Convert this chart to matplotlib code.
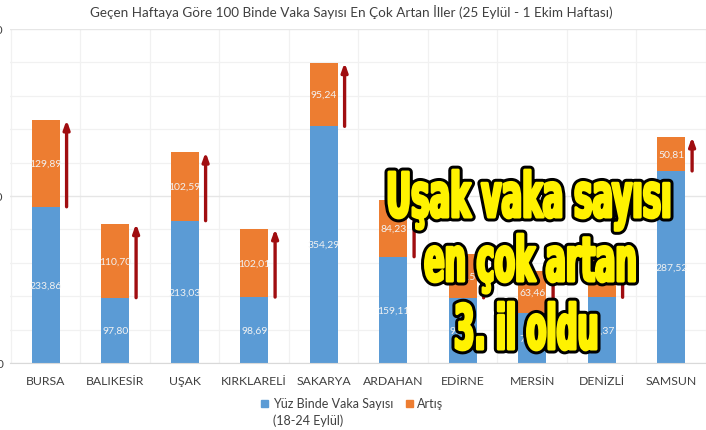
import numpy as np
import matplotlib
matplotlib.use("Agg")
import matplotlib.pyplot as plt
from matplotlib.patches import Rectangle, PathPatch
from matplotlib.textpath import TextPath
from matplotlib.font_manager import FontProperties
from matplotlib.transforms import Affine2D

cities = ['BURSA', 'BALIKESİR', 'UŞAK', 'KIRKLARELİ', 'SAKARYA',
          'ARDAHAN', 'EDİRNE', 'MERSİN', 'DENİZLİ', 'SAMSUN']
# 100 binde vaka sayisi (18-24 Eylul)
base = [233.86, 97.80, 213.03, 98.69, 354.29, 159.11, 97.60, 75.00, 98.37, 287.52]
# artis (25 Eylul - 1 Ekim)
increase = [129.89, 110.70, 102.59, 102.01, 95.24, 84.23, 66.15, 63.46, 56.20, 50.81]

title = "Geçen Haftaya Göre 100 Binde Vaka Sayısı En Çok Artan İller (25 Eylül - 1 Ekim Haftası)"
headline = ["Uşak vaka sayısı", "en çok artan", "3. il oldu"]

BLUE = '#5b9bd5'
ORANGE = '#ed7d31'
ARROW = '#a00d10'
W, H = 706, 431

plt.rcParams['font.family'] = ['Lato', 'DejaVu Sans']

fig = plt.figure(figsize=(W / 100, H / 100), dpi=100)
ax = fig.add_axes([10 / W, (H - 364) / H, (W - 10) / W, 334 / H])

x = np.arange(len(cities))
base = np.array(base)
increase = np.array(increase)
total = base + increase

ax.bar(x, base, width=0.4, color=BLUE, zorder=2)
ax.bar(x, increase, width=0.4, bottom=base, color=ORANGE, zorder=2)

def fmt(v):
    return f"{v:.2f}".replace('.', ',')

for i in range(len(x)):
    ax.text(x[i], base[i] / 2, fmt(base[i]), ha='center', va='center',
            color='#f2f2f2', fontsize=7.5, zorder=3)
    ax.text(x[i], base[i] + increase[i] / 2, fmt(increase[i]), ha='center',
            va='center', color='#f2f2f2', fontsize=7.5, zorder=3)
    ax.annotate('', xy=(x[i] + 0.3, total[i]), xytext=(x[i] + 0.3, base[i]),
                arrowprops=dict(arrowstyle='-|>,head_length=0.5,head_width=0.18',
                                color=ARROW, lw=2.4, shrinkA=0, shrinkB=0),
                zorder=4)

ax.set_xlim(-36 / 70, (W - 10 - 36) / 70)
ax.set_ylim(0, 500)
ax.set_yticks([0, 250, 500])
ax.set_yticks(np.arange(0, 501, 50), minor=True)
ax.set_xticks(np.arange(-0.5, 10, 0.5), minor=True)
ax.set_xticks(x)
ax.set_xticklabels(cities, fontsize=8.8, color='#404040')
ax.tick_params(axis='x', length=0, pad=9)
ax.tick_params(axis='y', length=0, pad=5, labelsize=8.5, labelcolor='#404040')
ax.tick_params(which='minor', length=0)
ax.grid(True, which='minor', color='#f1f1f1', lw=0.9, zorder=0)
ax.grid(True, which='major', axis='y', color='#e6e6e6', lw=1.0, zorder=0)
for s in ['top', 'right', 'left']:
    ax.spines[s].set_visible(False)
ax.spines['bottom'].set_color('#d9d9d9')

fig.text(351 / W, 1 - 12 / H, title, ha='center', va='center',
         fontsize=9.7, color='#404040')

# legend
fig.patches.append(Rectangle((261 / W, 1 - 408 / H), 7 / W, 7 / H,
                             transform=fig.transFigure, color=BLUE))
fig.text(273 / W, 1 - 404 / H, "Yüz Binde Vaka Sayısı", ha='left', va='center',
         fontsize=9, color='#404040')
fig.text(273 / W, 1 - 421 / H, "(18-24 Eylül)", ha='left', va='center',
         fontsize=9, color='#404040')
fig.patches.append(Rectangle((406 / W, 1 - 408 / H), 7 / W, 7 / H,
                             transform=fig.transFigure, color=ORANGE))
fig.text(417 / W, 1 - 404 / H, "Artış", ha='left', va='center',
         fontsize=9, color='#404040')

# yellow headline on top of the chart
prop = FontProperties(family='DejaVu Sans', weight='bold')
line_center = [529, 530, 526]
line_base = [218, 282, 350]
line_width = [280, 209, 140]
for txt, cx, by, lw_px in zip(headline, line_center, line_base, line_width):
    tp = TextPath((0, 0), txt, size=1, prop=prop)
    ext = tp.get_extents()
    sx = lw_px / ext.width
    sy = 45 / 0.73
    tr = (Affine2D().translate(-(ext.x0 + ext.width / 2), 0)
          .scale(sx, sy).translate(cx, H - by)
          .scale(1 / W, 1 / H) + fig.transFigure)
    # black outline, then a yellow stroke to thicken the glyphs
    fig.patches.append(PathPatch(tp, transform=tr, facecolor='black',
                                 edgecolor='black', lw=6.5, joinstyle='round',
                                 zorder=10))
    fig.patches.append(PathPatch(tp, transform=tr, facecolor='#fff200',
                                 edgecolor='#fff200', lw=2.2, joinstyle='round',
                                 zorder=11))

fig.savefig('out.png', dpi=100)
